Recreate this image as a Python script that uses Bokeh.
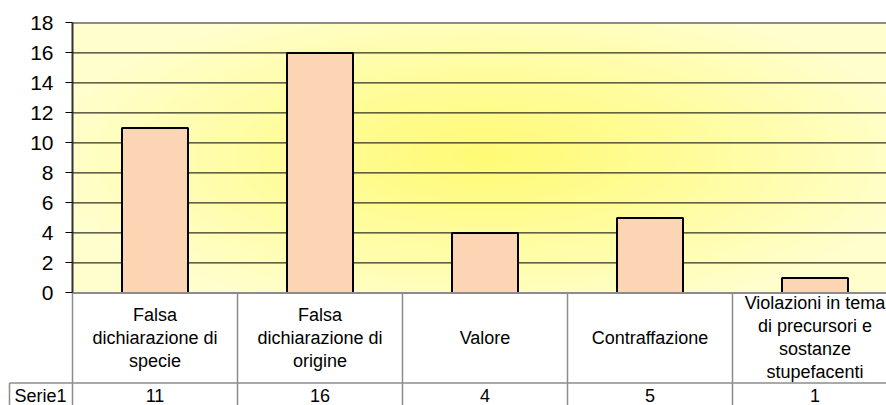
import numpy as np
from bokeh.plotting import figure
from bokeh.models import Range1d, FixedTicker
from bokeh.core.properties import value
from bokeh.embed import file_html
from bokeh.resources import INLINE

# ---- data ----
categories = [
    "Falsa\ndichiarazione di\nspecie",
    "Falsa\ndichiarazione di\norigine",
    "Valore",
    "Contraffazione",
    "Violazioni in tema\ndi precursori e\nsostanze\nstupefacenti",
]
values = [11, 16, 4, 5, 1]
series_name = "Serie1"
y_ticks = [0, 2, 4, 6, 8, 10, 12, 14, 16, 18]

# ---- layout constants ----
W, H = 886, 405
PX_PER_CAT = 165.0
PX_PER_UNIT = 15.0
LEFT_PX = 72.0      # from figure left to category axis start
TOP_PX = 22.4       # from figure top to y=18
FONT = value("Liberation Sans")

n = len(categories)
ymax = y_ticks[-1]
x_start = -LEFT_PX / PX_PER_CAT
x_end = x_start + W / PX_PER_CAT
y_end = ymax + TOP_PX / PX_PER_UNIT
y_start = y_end - H / PX_PER_UNIT

p = figure(width=W, height=H, output_backend="svg", toolbar_location=None,
           x_range=Range1d(x_start, x_end), y_range=Range1d(y_start, y_end),
           x_axis_location=None, min_border=0,
           min_border_left=0, min_border_right=0, min_border_top=0, min_border_bottom=0)
p.outline_line_color = None
p.background_fill_color = "white"
p.border_fill_color = "white"
p.xgrid.visible = False
p.ygrid.visible = False

# ---- background radial gradient for plot area ----
GH, GW = 120, 400
yy, xx = np.mgrid[0:GH, 0:GW]
dx = (xx - GW / 2) / (GW / 2)
dy = (yy - GH / 2) / (GH / 2)
d = np.clip(np.sqrt(dx ** 2 * 0.9 + dy ** 2 * 0.7), 0, 1)
c0 = np.array([255, 251, 118], dtype=float)
c1 = np.array([255, 255, 205], dtype=float)
img = np.empty((GH, GW), dtype=np.uint32)
view = img.view(dtype=np.uint8).reshape((GH, GW, 4))
for k in range(3):
    view[:, :, k] = (c0[k] + (c1[k] - c0[k]) * d ** 1.1).astype(np.uint8)
view[:, :, 3] = 255
p.image_rgba(image=[img], x=0, y=0, dw=n, dh=ymax)

# ---- gridlines ----
grid_vals = y_ticks[1:-1]
p.segment(x0=[0] * len(grid_vals), x1=[n] * len(grid_vals), y0=grid_vals, y1=grid_vals,
          line_color="black", line_width=1)

# ---- bars ----
centers = [i + 0.5 for i in range(n)]
p.vbar(x=centers, top=values, bottom=0, width=0.4,
       fill_color="#FCD5B5", line_color="black", line_width=2)

# ---- plot area borders ----
p.segment(x0=[0], x1=[n], y0=[ymax], y1=[ymax], line_color="#8c8c8c", line_width=2)
p.segment(x0=[0], x1=[n], y0=[0], y1=[0], line_color="#8c8c8c", line_width=2)

# ---- y axis ----
ax = p.yaxis[0]
ax.fixed_location = 0
ax.bounds = (0, ymax)
ax.ticker = FixedTicker(ticks=y_ticks)
ax.axis_line_color = "#333333"
ax.axis_line_width = 2
ax.major_tick_line_color = "black"
ax.major_tick_line_width = 1
ax.major_tick_out = 7
ax.major_tick_in = 0
ax.minor_tick_line_color = None
ax.major_label_standoff = 12
ax.major_label_text_font_size = "21px"
ax.major_label_text_font = "Liberation Sans"
ax.major_label_text_color = "black"

# ---- data table ----
header_h = 6.0
cell_left = x_start + 9.0 / PX_PER_CAT
tbl_color = "#8c8c8c"
# vertical separators
vx = list(range(n + 1))
p.segment(x0=vx, x1=vx, y0=[0] * len(vx), y1=[y_start] * len(vx),
          line_color=tbl_color, line_width=1.5)
# horizontal separator below header
p.segment(x0=[cell_left], x1=[n], y0=[-header_h], y1=[-header_h],
          line_color=tbl_color, line_width=1.5)
# left border of series cell
p.segment(x0=[cell_left], x1=[cell_left], y0=[-header_h], y1=[y_start],
          line_color=tbl_color, line_width=1.5)

p.text(x=centers, y=[-header_h / 2] * n, text=categories,
       text_align="center", text_baseline="middle",
       text_font=FONT, text_font_size="18px", text_line_height=1.15, text_color="black")

val_y = -header_h - 0.85
p.text(x=centers, y=[val_y] * n, text=[str(v) for v in values],
       text_align="center", text_baseline="middle",
       text_font=FONT, text_font_size="18px", text_color="black")
p.text(x=[cell_left + 5.0 / PX_PER_CAT], y=[val_y], text=[series_name],
       text_align="left", text_baseline="middle",
       text_font=FONT, text_font_size="18px", text_color="black")

open("out.html", "w").write(file_html(p, INLINE))
